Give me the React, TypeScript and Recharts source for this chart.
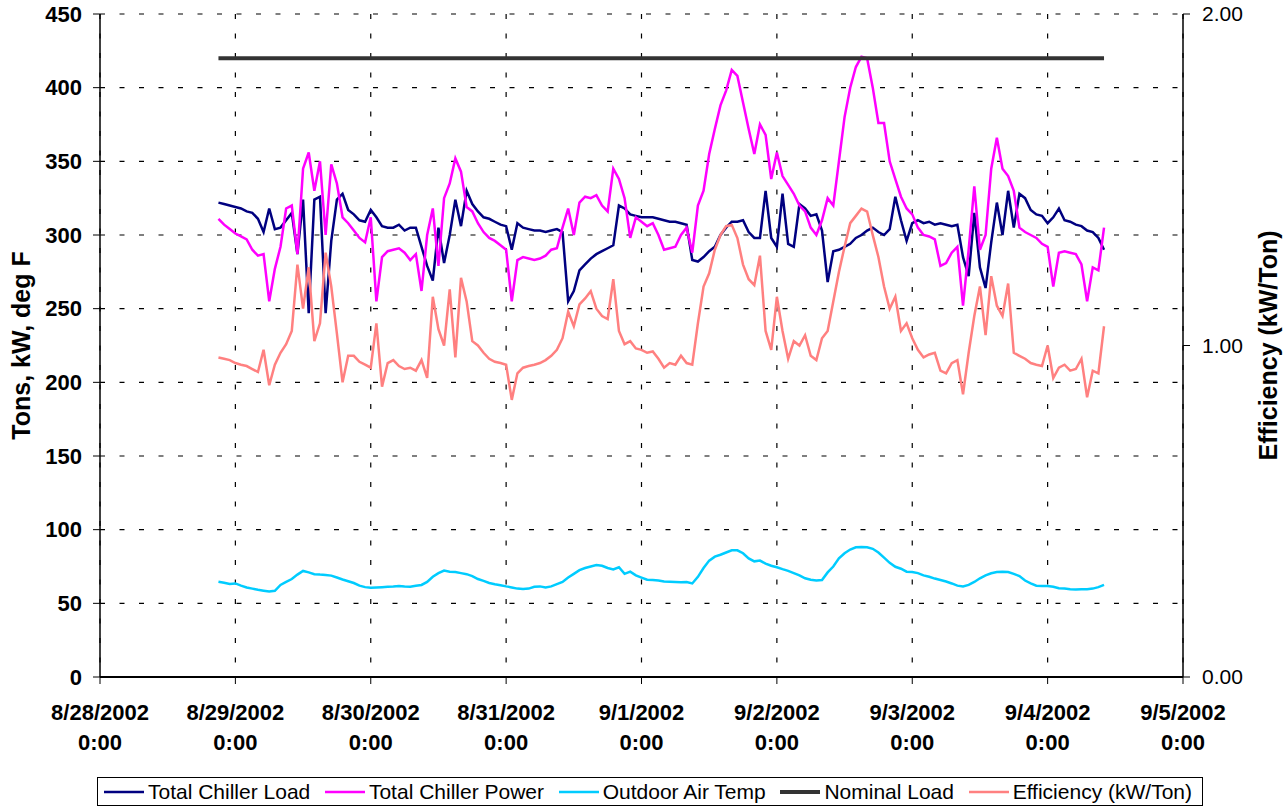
import { ComposedChart, Line, XAxis, YAxis, CartesianGrid, Legend } from 'recharts';

const FONT = 'Arial, "Liberation Sans", sans-serif';

// hourly samples, first one at 8/28/2002 21:00 (hours counted from 8/28 0:00)
const START_HOUR = 21;

const DAY_LABELS = ['8/28/2002', '8/29/2002', '8/30/2002', '8/31/2002', '9/1/2002', '9/2/2002', '9/3/2002', '9/4/2002', '9/5/2002'];
const HOUR_TICKS = [0, 24, 48, 72, 96, 120, 144, 168, 192];
const LEFT_TICKS = [0, 50, 100, 150, 200, 250, 300, 350, 400, 450];
const RIGHT_TICKS = [0, 1, 2];

const NOMINAL_LOAD = 420;

// Tons
const chillerLoad = [
  322, 321, 320,
  319, 318, 316, 315, 311, 302, 318, 304, 305, 310, 315, 287, 324, 247, 324, 326, 247, 296, 324, 328, 317, 314, 310, 309,
  317, 312, 306, 305, 305, 307, 303, 305, 305, 292, 279, 269, 305, 281, 300, 324, 306, 330, 321, 316, 312, 311, 309, 307,
  306, 290, 308, 305, 304, 303, 303, 302, 303, 304, 302, 255, 262, 276, 280, 284, 287, 289, 291, 293, 320, 318, 314, 313,
  312, 312, 312, 311, 310, 309, 309, 308, 307, 283, 282, 285, 289, 292, 300, 305, 309, 309, 310, 302, 298, 298, 330, 298,
  292, 328, 294, 292, 321, 318, 313, 314, 303, 268, 289, 290, 292, 294, 298, 300, 303, 305, 302, 300, 304, 326, 310, 296,
  308, 310, 308, 309, 307, 308, 307, 306, 307, 285, 272, 315, 278, 264, 295, 322, 300, 330, 305, 328, 325, 317, 314, 313,
  308, 312, 318, 310, 309, 307, 306, 303, 302, 298, 290,
];

// kW
const chillerPower = [
  311, 307, 304,
  301, 299, 297, 290, 286, 287, 255, 277, 292, 318, 320, 287, 345, 356, 330, 350, 300, 348, 335, 312, 308, 303, 298, 295,
  312, 255, 285, 289, 290, 291, 288, 283, 287, 262, 300, 318, 279, 325, 335, 352, 343, 319, 316, 308, 302, 298, 296, 293,
  290, 255, 283, 285, 284, 283, 284, 286, 290, 291, 305, 318, 300, 322, 326, 325, 327, 320, 316, 345, 338, 325, 298, 312,
  309, 306, 308, 300, 290, 291, 292, 300, 305, 288, 320, 330, 355, 372, 388, 398, 412, 408, 390, 372, 355, 375, 368, 338,
  356, 340, 334, 328, 320, 316, 305, 300, 310, 325, 320, 350, 380, 400, 414, 421, 420, 400, 376, 376, 350, 338, 326, 318,
  314, 305, 300, 299, 297, 279, 281, 288, 292, 252, 290, 333, 290, 300, 345, 366, 345, 340, 330, 305, 302, 300, 298, 294,
  292, 265, 288, 289, 288, 287, 280, 255, 278, 276, 305,
];

// deg F
const outdoorTemp = [
  64.7, 64, 63.1,
  63.5, 62, 60.8, 60, 59.2, 58.6, 58, 58.5, 62.5, 64.5, 66.5, 69.5, 72, 71, 69.8, 69.5, 69.3, 68.8, 67.5, 66.2, 65, 63.8, 62, 61,
  60.6, 60.8, 61, 61.2, 61.4, 61.8, 61.5, 61.3, 62, 62.5, 64.5, 68, 70.5, 72.2, 71.5, 71.2, 70.5, 69.8, 68.5, 66.5, 65.2, 63.8, 63, 62.3,
  61.5, 60.8, 60, 59.7, 60, 61.2, 61.5, 60.8, 61.5, 63, 64.5, 67.5, 70, 72.5, 74, 75, 76, 75.5, 74, 73, 74.5, 70, 71.5, 69,
  67.5, 66, 65.9, 65.5, 64.8, 64.7, 64.5, 64.3, 64.5, 63.5, 68, 74, 79, 81.7, 83, 84.5, 86, 86, 84, 80.5, 78.5, 79, 77, 75.5,
  74.5, 73.2, 72, 70.5, 69, 67, 66, 65.5, 65.8, 71, 75, 80.5, 84, 86.5, 88, 88.2, 88, 87, 84.5, 81, 77.5, 74.8, 73.5, 71.5,
  71.3, 70.5, 69, 68, 66.8, 65.8, 64.8, 63.5, 62, 61.5, 62.5, 64.5, 67, 69, 70.4, 71.2, 71.5, 71.2, 70, 68.5, 65.5, 63.5, 62, 61.8,
  61.7, 61.3, 60.3, 60, 59.5, 59.4, 59.5, 59.6, 60, 61, 62.5,
];

// kW/Ton (right axis)
const efficiency = [
  0.964, 0.960, 0.956,
  0.947, 0.942, 0.938, 0.929, 0.920, 0.987, 0.880, 0.942, 0.978, 1.004, 1.044, 1.244, 1.111, 1.236, 1.013, 1.067, 1.280, 1.178, 1.036, 0.889, 0.969, 0.969, 0.951, 0.942,
  0.933, 1.067, 0.876, 0.947, 0.956, 0.938, 0.929, 0.933, 0.924, 0.956, 0.902, 1.147, 1.049, 1.000, 1.169, 0.964, 1.204, 1.133, 1.013, 1.000, 0.978, 0.960, 0.951, 0.947,
  0.942, 0.836, 0.916, 0.933, 0.938, 0.942, 0.947, 0.956, 0.969, 0.987, 1.022, 1.102, 1.058, 1.124, 1.142, 1.164, 1.111, 1.089, 1.080, 1.200, 1.044, 1.004, 1.013, 0.991,
  0.987, 0.978, 0.982, 0.960, 0.933, 0.947, 0.942, 0.969, 0.947, 0.942, 1.067, 1.178, 1.218, 1.289, 1.333, 1.360, 1.364, 1.324, 1.244, 1.200, 1.182, 1.271, 1.044, 0.987,
  1.147, 1.044, 0.960, 1.013, 1.000, 1.031, 0.969, 0.956, 1.022, 1.044, 1.133, 1.222, 1.298, 1.369, 1.391, 1.413, 1.404, 1.333, 1.267, 1.178, 1.111, 1.147, 1.044, 1.067,
  1.022, 0.987, 0.964, 0.973, 0.978, 0.924, 0.916, 0.947, 0.956, 0.853, 0.978, 1.089, 1.178, 1.031, 1.209, 1.120, 1.089, 1.187, 0.978, 0.969, 0.960, 0.947, 0.942, 0.938,
  1.000, 0.902, 0.933, 0.942, 0.924, 0.929, 0.960, 0.844, 0.924, 0.916, 1.058,
];

const data = chillerLoad.map((load, i) => ({
  hour: START_HOUR + i,
  load,
  power: chillerPower[i],
  temp: outdoorTemp[i],
  nominal: NOMINAL_LOAD,
  eff: efficiency[i],
}));

const SERIES = [
  { key: 'load', name: 'Total Chiller Load', color: '#000080', width: 2.5 },
  { key: 'power', name: 'Total Chiller Power', color: '#FF00FF', width: 2.5 },
  { key: 'temp', name: 'Outdoor Air Temp', color: '#00CCFF', width: 2.5 },
  { key: 'nominal', name: 'Nominal Load', color: '#333333', width: 4 },
  { key: 'eff', name: 'Efficiency (kW/Ton)', color: '#FF8080', width: 2.5 },
];

const DateTick = ({ x, y, payload }: any) => (
  <g transform={`translate(${x},${y})`}>
    <text textAnchor="middle" dy={34} fontFamily={FONT} fontSize={22} fontWeight="bold" fill="#000">
      {DAY_LABELS[Math.round(payload.value / 24)]}
    </text>
    <text textAnchor="middle" dy={64} fontFamily={FONT} fontSize={22} fontWeight="bold" fill="#000">
      0:00
    </text>
  </g>
);

const LeftTitle = (props: any) => {
  const vb = props.viewBox;
  const cy = vb.y + vb.height / 2;
  return (
    <text transform={`translate(21,${cy}) rotate(-90)`} textAnchor="middle" dominantBaseline="central"
      fontFamily={FONT} fontSize={25} fontWeight="bold" fill="#000">
      Tons, kW, deg F
    </text>
  );
};

const RightTitle = (props: any) => {
  const vb = props.viewBox;
  const cy = vb.y + vb.height / 2;
  return (
    <text transform={`translate(1268,${cy}) rotate(-90)`} textAnchor="middle" dominantBaseline="central"
      fontFamily={FONT} fontSize={25} fontWeight="bold" fill="#000">
      Efficiency (kW/Ton)
    </text>
  );
};

const LegendBox = () => (
  <div
    style={{
      boxSizing: 'border-box', width: '100%', height: '100%', border: '1px solid #000', background: '#fff',
      display: 'flex', alignItems: 'center', justifyContent: 'space-between', padding: '0 10px 0 6px',
      fontFamily: FONT, fontSize: 21, color: '#000',
    }}
  >
    {SERIES.map((s) => (
      <div key={s.key} style={{ display: 'flex', alignItems: 'center', whiteSpace: 'nowrap' }}>
        <svg width={40} height={10}>
          <line x1={0} x2={40} y1={5} y2={5} stroke={s.color} strokeWidth={s.width} />
        </svg>
        <span style={{ marginLeft: 4 }}>{s.name}</span>
      </div>
    ))}
  </div>
);

export default function App() {
  return (
    <div style={{ position: 'absolute', left: 0, top: 0, background: '#fff' }}>
      <ComposedChart width={1283} height={808} data={data} margin={{ top: 14, right: 0, bottom: 0, left: 0 }}>
        <CartesianGrid yAxisId="left" stroke="#000" strokeDasharray="5 14.5" strokeWidth={1.2} />
        <XAxis
          dataKey="hour" type="number" domain={[0, 192]} ticks={HOUR_TICKS} height={131}
          axisLine={{ stroke: '#000', strokeWidth: 2 }} tickLine={{ stroke: '#000' }} tickSize={7}
          tick={<DateTick />} interval={0}
        />
        <YAxis
          yAxisId="left" domain={[0, 450]} ticks={LEFT_TICKS} width={100} tickSize={7} tickMargin={11}
          axisLine={{ stroke: '#000', strokeWidth: 1.5 }} tickLine={{ stroke: '#000' }}
          tick={{ fontFamily: FONT, fontSize: 22, fontWeight: 'bold', fill: '#000' }}
          label={LeftTitle}
        />
        <YAxis
          yAxisId="right" orientation="right" domain={[0, 2]} ticks={RIGHT_TICKS} width={100} tickSize={7} tickMargin={12}
          axisLine={{ stroke: '#000', strokeWidth: 1.5 }} tickLine={{ stroke: '#000' }}
          tick={{ fontFamily: FONT, fontSize: 21, fill: '#000' }}
          tickFormatter={(v: number) => v.toFixed(2)}
          label={RightTitle}
        />
        {SERIES.map((s) => (
          <Line
            key={s.key}
            yAxisId={s.key === 'eff' ? 'right' : 'left'}
            dataKey={s.key}
            name={s.name}
            type="linear"
            stroke={s.color}
            strokeWidth={s.width}
            dot={false}
            activeDot={false}
            isAnimationActive={false}
          />
        ))}
        <Legend
          layout="horizontal" verticalAlign="middle" align="center" content={LegendBox}
          wrapperStyle={{ left: 97, top: 777, width: 1106, height: 29 }}
        />
      </ComposedChart>
    </div>
  );
}
